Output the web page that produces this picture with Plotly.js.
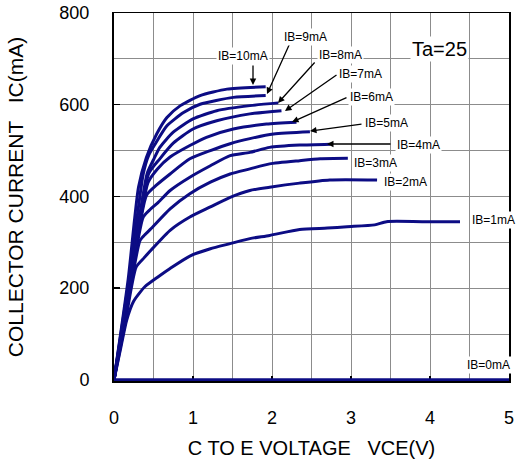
<!DOCTYPE html>
<html>
<head>
<meta charset="utf-8">
<script src="https://cdn.plot.ly/plotly-3.0.1.min.js"></script>
<style>html,body{margin:0;padding:0;background:#fff;}#chart{width:516px;height:463px;}</style>
</head>
<body>
<div id="chart"></div>
<script>
// ---- data ----
const seriesNames = ["IB=0mA","IB=1mA","IB=2mA","IB=3mA","IB=4mA","IB=5mA","IB=6mA","IB=7mA","IB=8mA","IB=9mA","IB=10mA"];

const vce0 = [0, 5];
const ic0  = [0, 0];

const vce1 = [0, 0.08, 0.16, 0.25, 0.39, 0.56, 0.71, 0.96, 1.22, 1.47, 1.72, 1.97, 2.35, 2.70, 2.95, 3.30, 3.45, 3.90, 4.38];
const ic1  = [0, 65, 130, 172, 203, 225, 243, 270, 286, 297, 308, 315, 328, 331, 334, 338, 345, 345, 345];

const vce2 = [0, 0.14, 0.28, 0.38, 0.47, 0.71, 0.96, 1.22, 1.47, 1.72, 1.97, 2.35, 2.73, 3.33];
const ic2  = [0, 123, 246, 266, 283, 326, 355, 377, 398, 413, 420, 429, 436, 436];

const vce3 = [0, 0.16, 0.33, 0.40, 0.47, 0.71, 0.96, 1.22, 1.47, 1.72, 1.97, 2.35, 2.61, 2.96];
const ic3  = [0, 152, 304, 318, 330, 373, 406, 431, 449, 460, 471, 478, 482, 483];

const vce4 = [0, 0.18, 0.37, 0.46, 0.56, 0.71, 0.96, 1.22, 1.47, 1.72, 1.97, 2.35, 2.74];
const ic4  = [0, 178, 355, 372, 387, 413, 442, 467, 489, 496, 507, 512, 514];

const vce5 = [0, 0.20, 0.41, 0.54, 0.71, 0.96, 1.22, 1.47, 1.72, 2.02, 2.48];
const ic5  = [0, 200, 402, 425, 449, 482, 500, 515, 526, 536, 541];

const vce6 = [0, 0.21, 0.43, 0.55, 0.71, 0.96, 1.17, 1.51, 1.93, 2.31];
const ic6  = [0, 215, 430, 460, 486, 511, 529, 547, 558, 562];

const vce7 = [0, 0.22, 0.44, 0.58, 0.75, 1.00, 1.30, 1.72, 2.12];
const ic7  = [0, 235, 450, 482, 516, 547, 565, 580, 587];

const vce8 = [0, 0.22, 0.42, 0.50, 0.58, 0.75, 1.00, 1.30, 1.72, 2.08];
const ic8  = [0, 240, 450, 480, 507, 540, 569, 587, 598, 604];

const vce9 = [0, 0.20, 0.37, 0.44, 0.52, 0.67, 0.88, 1.09, 1.51, 1.92];
const ic9  = [0, 230, 449, 490, 514, 554, 583, 601, 616, 620];

const vce10 = [0, 0.18, 0.31, 0.41, 0.54, 0.67, 0.84, 1.09, 1.43, 1.92];
const ic10  = [0, 220, 420, 485, 536, 572, 598, 620, 634, 639];

const xTickVals = [0, 1, 2, 3, 4, 5];
const yTickVals = [0, 200, 400, 600, 800];
const xTitle = "C TO E VOLTAGE&nbsp;&nbsp;&nbsp;VCE(V)";
const yTitle = "COLLECTOR CURRENT&nbsp;&nbsp;&nbsp;IC(mA)";
const tempLabel = "Ta=25";

// ---- drawing ----
const FONT = "Liberation Sans, Arial, Helvetica, sans-serif";
const NAVY = "#0c0c84";
const W = 516, H = 463;
const M = {l: 114, r: 7, t: 13, b: 82};
const XR = [0, 5], YR = [-2.5, 800];

const xs = [vce0, vce1, vce2, vce3, vce4, vce5, vce6, vce7, vce8, vce9, vce10];
const ys = [ic0, ic1, ic2, ic3, ic4, ic5, ic6, ic7, ic8, ic9, ic10];

const traces = xs.map((x, i) => ({
  type: "scatter", mode: "lines", name: seriesNames[i],
  x: x, y: ys[i],
  line: {color: NAVY, width: 3, shape: "spline", smoothing: 0.6},
  hoverinfo: "skip"
}));

// pixel -> data helpers for label placement
const pw = W - M.l - M.r, ph = H - M.t - M.b;
const PX = px => XR[0] + (px - M.l) / pw * (XR[1] - XR[0]);
const PY = py => YR[0] + (H - M.b - py) / ph * (YR[1] - YR[0]);

const annotations = [];
// label texts with white boxes (pixel centres)
const labelPos = [
  ["IB=10mA", 243, 56], ["IB=9mA", 305, 37], ["IB=8mA", 340, 55], ["IB=7mA", 360, 74],
  ["IB=6mA", 371, 97], ["IB=5mA", 386, 123], ["IB=4mA", 418, 145], ["IB=3mA", 375, 163],
  ["IB=2mA", 405, 182], ["IB=1mA", 493, 220], ["IB=0mA", 488, 365]
];
// arrows: [tailX, tailY, tipX, tipY] in pixels
const arrows = [
  [253, 64, 253, 85], [290, 43, 267, 94], [316, 61, 278, 103], [338, 74, 285, 111],
  [348, 97, 292, 122], [363, 124, 310, 131], [392, 144, 327, 144]
];
arrows.forEach(a => annotations.push({
  x: PX(a[2]), y: PY(a[3]), xref: "x", yref: "y",
  ax: a[0] - a[2], ay: a[1] - a[3],
  text: "", showarrow: true, arrowhead: 2, arrowsize: 1, arrowwidth: 1.3, arrowcolor: "#000"
}));
labelPos.forEach(l => annotations.push({
  x: PX(l[1]), y: PY(l[2]), xref: "x", yref: "y",
  text: l[0], showarrow: false, bgcolor: "#fff", borderpad: 1,
  font: {family: FONT, size: 12, color: "#000"}
}));
annotations.push({
  x: PX(439), y: PY(49), xref: "x", yref: "y", text: tempLabel, showarrow: false,
  bgcolor: "#fff", font: {family: FONT, size: 20, color: "#000"}
});

const GRID = "#8c8c8c";
const layout = {
  width: W, height: H, margin: M,
  paper_bgcolor: "#fff", plot_bgcolor: "#fff",
  showlegend: false,
  font: {family: FONT, color: "#000"},
  xaxis: {
    range: XR, tickvals: xTickVals, ticktext: xTickVals.map(String),
    showgrid: true, gridcolor: GRID, gridwidth: 1,
    minor: {dtick: 0.5, tick0: 0, showgrid: true, gridcolor: GRID, gridwidth: 1},
    ticks: "inside", ticklen: 5, tickwidth: 1.5, tickcolor: "#000",
    showline: true, linecolor: "#000", linewidth: 1.5, mirror: true,
    zeroline: false, layer: "below traces",
    tickfont: {family: FONT, size: 18, color: "#000"}, ticklabelstandoff: 20,
    title: {text: xTitle, font: {family: FONT, size: 20, color: "#000"}, standoff: 14},
    fixedrange: true
  },
  yaxis: {
    range: YR, tickvals: yTickVals, ticktext: yTickVals.map(String),
    showgrid: true, gridcolor: GRID, gridwidth: 1,
    minor: {dtick: 100, tick0: 0, showgrid: true, gridcolor: GRID, gridwidth: 1},
    ticks: "inside", ticklen: 6, tickwidth: 1.5, tickcolor: "#000",
    showline: true, linecolor: "#000", linewidth: 2, mirror: true,
    zeroline: false, layer: "below traces",
    tickfont: {family: FONT, size: 18, color: "#000"}, ticklabelstandoff: 19,
    title: {text: yTitle, font: {family: FONT, size: 21, color: "#000"}, standoff: 30},
    fixedrange: true
  },
  annotations: annotations
};

Plotly.newPlot("chart", traces, layout, {staticPlot: true, displayModeBar: false});
</script>
</body>
</html>
